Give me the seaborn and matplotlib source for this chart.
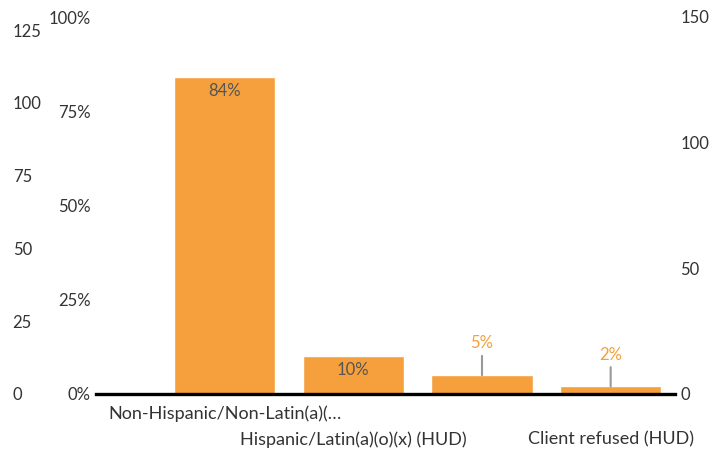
"""Ethnicity breakdown bar chart with three value axes."""

import matplotlib

matplotlib.use("Agg")
import matplotlib.pyplot as plt
import pandas as pd
import seaborn as sns

# data
categories = [
    "Non-Hispanic/Non-Latin(a)(…",
    "Hispanic/Latin(a)(o)(x) (HUD)",
    "Client doesn't know (HUD)",
    "Client refused (HUD)",
]
percents = [84, 10, 5, 2]
pct_ticks = [0, 25, 50, 75, 100]
left_count_ticks = [0, 25, 50, 75, 100, 125]
right_count_ticks = [0, 50, 100, 150]
shown_labels = [True, True, False, True]

BAR = "#F5A03C"
TEXT = "#333333"

sns.set_theme(style="white")
plt.rcParams["font.family"] = ["Lato", "DejaVu Sans"]

df = pd.DataFrame({"category": categories, "percent": percents})

fig = plt.figure(figsize=(7.12, 4.51), dpi=100)
ax = fig.add_axes([96 / 712, 57 / 451, 579 / 712, 377 / 451])

sns.barplot(data=df, x="category", y="percent", color=BAR, width=0.79,
            saturation=1, ax=ax)
ax.set_xlim(-1, 3.5)
ax.set_ylim(0, 100)
ax.set_xlabel("")
ax.set_ylabel("")
for side in ["top", "right", "left"]:
    ax.spines[side].set_visible(False)
ax.spines["bottom"].set_color("black")
ax.spines["bottom"].set_linewidth(2.4)

ax.set_yticks(pct_ticks)
ax.set_yticklabels([f"{t}%" for t in pct_ticks])
ax.tick_params(axis="y", length=0, pad=4, labelsize=12, labelcolor=TEXT)
ax.tick_params(axis="x", length=0, labelsize=13, labelcolor=TEXT)

# staggered category labels
for i, (tick, lab) in enumerate(zip(ax.xaxis.get_major_ticks(), ax.get_xticklabels())):
    tick.set_pad(8 if i % 2 == 0 else 27)
    lab.set_visible(shown_labels[i])

# value labels
for i, v in enumerate(percents):
    if v >= 10:
        ax.annotate(f"{v}%", xy=(i, v), xytext=(0, -10), textcoords="offset points",
                    ha="center", va="center", fontsize=12, color="#555555")
    else:
        ax.annotate(f"{v}%", xy=(i, v), xytext=(0, 23), textcoords="offset points",
                    ha="center", va="center", fontsize=12, color=BAR,
                    arrowprops=dict(arrowstyle="-", color="#999999", lw=1.5,
                                    shrinkA=1, shrinkB=0))

# outer left count axis
ax_left = ax.twinx()
ax_left.set_ylim(0, 129.5)
ax_left.yaxis.set_ticks_position("left")
ax_left.set_yticks(left_count_ticks)
ax_left.tick_params(axis="y", length=0, pad=60, labelsize=12, labelcolor=TEXT)
for lab in ax_left.get_yticklabels():
    lab.set_horizontalalignment("left")
for side in ax_left.spines:
    ax_left.spines[side].set_visible(False)
ax_left.set_xlim(ax.get_xlim())

# right count axis
ax_right = ax.twinx()
ax_right.set_ylim(0, 150)
ax_right.set_yticks(right_count_ticks)
ax_right.tick_params(axis="y", length=0, pad=4, labelsize=12, labelcolor=TEXT)
for side in ax_right.spines:
    ax_right.spines[side].set_visible(False)

fig.savefig("out.png", dpi=100)
plt.close(fig)
